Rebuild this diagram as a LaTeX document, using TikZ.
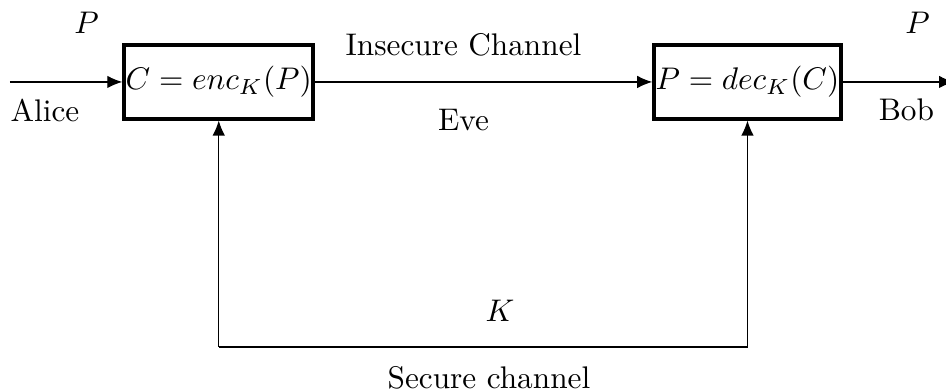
\documentclass[tikz,border=0pt]{standalone}
\usepackage{color}
\usepackage{tikz}
\usetikzlibrary{arrows.meta}
\pgfdeclarelayer{edgelayer}
\pgfdeclarelayer{nodelayer}
\pgfsetlayers{edgelayer,nodelayer,main}
\tikzstyle{none}=[inner sep=0pt]
\definecolor{myblack}{rgb}{0.000,0.000,0.000}
\definecolor{mywhite}{rgb}{1.000,1.000,1.000}
\tikzstyle{cipher}=[rectangle,fill=mywhite,draw=myblack,very thick,minimum width=2.095cm,minimum height=0.825cm,inner sep=0.5pt]
\tikzstyle{txt}=[inner sep=0pt,text=myblack]
\tikzstyle{channel}=[-{Latex[length=4.8pt,width=4pt]},draw=myblack]

\begin{document}
\begin{tikzpicture}
	\useasboundingbox (0,0) rectangle (10.63,4.382);
	\begin{pgfonlayer}{nodelayer}
		\node [style=cipher] (0) at (2.458, 3.461) {$C = enc_K(P)$};
		\node [style=cipher] (1) at (8.399, 3.461) {$P = dec_K(C)$};
		\node [style=txt] (2) at (0.972, 4.12) {$P$};
		\node [style=txt] (3) at (0.506, 3.146) {Alice};
		\node [style=txt] (4) at (5.208, 3.876) {Insecure Channel};
		\node [style=txt] (5) at (5.208, 3.034) {Eve};
		\node [style=txt] (6) at (10.31, 4.12) {$P$};
		\node [style=txt] (7) at (10.185, 3.146) {Bob};
		\node [style=txt] (8) at (5.618, 0.888) {$K$};
		\node [style=txt] (9) at (5.494, 0.14) {Secure channel};
	\end{pgfonlayer}
	\coordinate (v1) at (0.112, 3.461);
	\coordinate (v2) at (10.72, 3.461);
	\coordinate (v3) at (2.458, 0.483);
	\coordinate (v4) at (8.399, 0.483);
	\begin{pgfonlayer}{edgelayer}
		\draw [style=channel] (v1) to (0);
		\draw [style=channel] (0) to (1);
		\draw [style=channel] (1) to (v2);
		\draw [style=channel] (v3) to (0);
		\draw [style=channel] (v3) -- (v4) -- (1);
	\end{pgfonlayer}
\end{tikzpicture}
\end{document}
